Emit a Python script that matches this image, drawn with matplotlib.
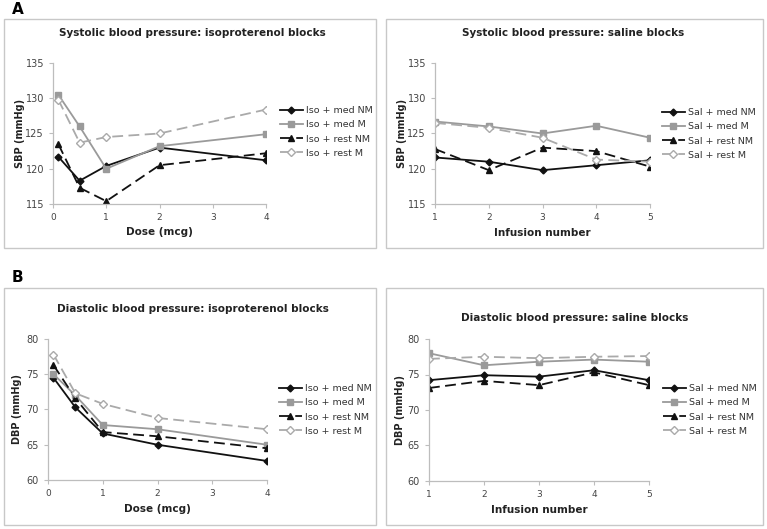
import matplotlib
matplotlib.use("Agg")
import matplotlib.pyplot as plt
from matplotlib.patches import Rectangle

# ---------------- data ----------------
dose = [0.1, 0.5, 1, 2, 4]
infusion = [1, 2, 3, 4, 5]

sbp_iso_med_nm = [121.7, 118.3, 120.4, 123.0, 121.2]
sbp_iso_med_m = [130.5, 126.0, 120.0, 123.2, 124.9]
sbp_iso_rest_nm = [123.5, 117.3, 115.4, 120.5, 122.2]
sbp_iso_rest_m = [129.8, 123.7, 124.5, 125.0, 128.4]

sbp_sal_med_nm = [121.6, 121.0, 119.8, 120.5, 121.2]
sbp_sal_med_m = [126.7, 126.0, 125.0, 126.1, 124.4]
sbp_sal_rest_nm = [122.8, 119.8, 123.0, 122.5, 120.3]
sbp_sal_rest_m = [126.5, 125.8, 124.4, 121.3, 121.0]

dbp_iso_med_nm = [74.5, 70.3, 66.6, 65.0, 62.7]
dbp_iso_med_m = [75.0, 72.0, 67.8, 67.2, 65.0]
dbp_iso_rest_nm = [76.3, 71.6, 66.8, 66.2, 64.5]
dbp_iso_rest_m = [77.8, 72.3, 70.8, 68.8, 67.2]

dbp_sal_med_nm = [74.2, 74.9, 74.7, 75.6, 74.2]
dbp_sal_med_m = [78.0, 76.3, 76.8, 77.1, 76.8]
dbp_sal_rest_nm = [73.1, 74.1, 73.5, 75.3, 73.5]
dbp_sal_rest_m = [77.2, 77.5, 77.3, 77.5, 77.6]

iso_labels = ["Iso + med NM", "Iso + med M", "Iso + rest NM", "Iso + rest M"]
sal_labels = ["Sal + med NM", "Sal + med M", "Sal + rest NM", "Sal + rest M"]

# ---------------- style ----------------
plt.rcParams['font.family'] = ['DejaVu Sans']
W, H = 767, 529
fig = plt.figure(figsize=(W / 100, H / 100), dpi=100)
fig.patch.set_facecolor('white')

styles = [
    dict(color='#111111', ls='-', marker='D', ms=3.5, mfc='#111111', mec='#111111', lw=1.3),
    dict(color='#9a9a9a', ls='-', marker='s', ms=5, mfc='#9a9a9a', mec='#9a9a9a', lw=1.3),
    dict(color='#111111', ls=(0, (6, 3)), marker='^', ms=5, mfc='#111111', mec='#111111', lw=1.3),
    dict(color='#aaaaaa', ls=(0, (6, 3)), marker='D', ms=4, mfc='white', mec='#aaaaaa', lw=1.3),
]


def px_rect(x0, y0, x1, y1):
    return [x0 / W, 1 - y1 / H, (x1 - x0) / W, (y1 - y0) / H]


def frame(x0, y0, x1, y1):
    r = Rectangle((x0 / W, 1 - y1 / H), (x1 - x0) / W, (y1 - y0) / H,
                  transform=fig.transFigure, fill=False, ec='#c8c8c8', lw=1.0)
    fig.patches.append(r)


def panel(rect, x, series, labels, title, title_xy, ylabel, xlabel, ylim, yticks,
          xlim, xticks, leg_xy, ylab_x, xlab_y):
    ax = fig.add_axes(px_rect(*rect))
    for ys, lab, st in zip(series, labels, styles):
        ax.plot(x, ys, label=lab, **st)
    ax.set_xlim(*xlim)
    ax.set_ylim(*ylim)
    ax.set_xticks(xticks)
    ax.set_yticks(yticks)
    for s in ['top', 'right']:
        ax.spines[s].set_visible(False)
    for s in ['left', 'bottom']:
        ax.spines[s].set_color('#bdbdbd')
        ax.spines[s].set_linewidth(0.9)
    ax.tick_params(axis='both', colors='#bdbdbd', labelcolor='#444444',
                   labelsize=7, length=3, width=0.8, direction='out')
    ax.tick_params(axis='x', labelsize=6.5)
    fig.text(ylab_x / W, 1 - (rect[1] + rect[3]) / 2 / H, ylabel, fontsize=7,
             fontweight='bold', rotation=90, ha='center', va='center', color='#222222')
    fig.text((rect[0] + rect[2]) / 2 / W, 1 - xlab_y / H, xlabel, fontsize=7.5,
             fontweight='bold', ha='center', va='center', color='#222222')
    fig.text(title_xy[0] / W, 1 - title_xy[1] / H, title, fontsize=7.5,
             fontweight='bold', ha='center', va='center', color='#222222')
    ax.legend(loc='center left', bbox_to_anchor=(leg_xy[0] / W, 1 - leg_xy[1] / H),
              bbox_transform=fig.transFigure, frameon=False, fontsize=6.8,
              handlelength=2.4, handletextpad=0.35, labelspacing=0.55,
              borderpad=0, borderaxespad=0, labelcolor='#333333')
    return ax


# frames
frame(4, 19, 376, 248)
frame(386, 19, 763, 248)
frame(4, 288, 376, 525)
frame(386, 288, 763, 525)

fig.text(12 / W, 1 - 10 / H, "A", fontsize=11, fontweight='bold', ha='left', va='center')
fig.text(12 / W, 1 - 277 / H, "B", fontsize=11, fontweight='bold', ha='left', va='center')

panel((53, 63, 266, 204), dose,
      [sbp_iso_med_nm, sbp_iso_med_m, sbp_iso_rest_nm, sbp_iso_rest_m], iso_labels,
      "Systolic blood pressure: isoproterenol blocks", (192, 33),
      "SBP (mmHg)", "Dose (mcg)", (115, 135), [115, 120, 125, 130, 135],
      (0, 4), [0, 1, 2, 3, 4], (280, 132), 20, 232)

panel((435, 63, 650, 204), infusion,
      [sbp_sal_med_nm, sbp_sal_med_m, sbp_sal_rest_nm, sbp_sal_rest_m], sal_labels,
      "Systolic blood pressure: saline blocks", (573, 33),
      "SBP (mmHg)", "Infusion number", (115, 135), [115, 120, 125, 130, 135],
      (1, 5), [1, 2, 3, 4, 5], (662, 134), 402, 233)

panel((48, 339, 267, 480), dose,
      [dbp_iso_med_nm, dbp_iso_med_m, dbp_iso_rest_nm, dbp_iso_rest_m], iso_labels,
      "Diastolic blood pressure: isoproterenol blocks", (193, 309),
      "DBP (mmHg)", "Dose (mcg)", (60, 80), [60, 65, 70, 75, 80],
      (0, 4), [0, 1, 2, 3, 4], (279, 410), 17, 509)

panel((429, 339, 649, 481), infusion,
      [dbp_sal_med_nm, dbp_sal_med_m, dbp_sal_rest_nm, dbp_sal_rest_m], sal_labels,
      "Diastolic blood pressure: saline blocks", (575, 318),
      "DBP (mmHg)", "Infusion number", (60, 80), [60, 65, 70, 75, 80],
      (1, 5), [1, 2, 3, 4, 5], (663, 410), 400, 510)

fig.savefig("out.png", dpi=100, facecolor='white')
